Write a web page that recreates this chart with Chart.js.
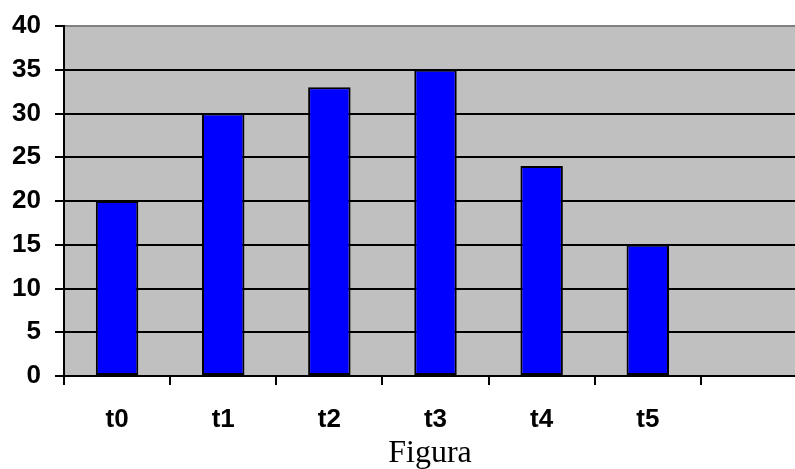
<!DOCTYPE html>
<html>
<head>
<meta charset="utf-8">
<script src="https://cdn.jsdelivr.net/npm/chart.js@4/dist/chart.umd.min.js"></script>
<style>
html,body{margin:0;padding:0;background:#fff;overflow:hidden;width:795px;height:469px;}
canvas{display:block;}
</style>
</head>
<body>
<canvas id="c" width="808" height="469"></canvas>
<script>
const categories = ['t0','t1','t2','t3','t4','t5',''];
const values = [20, 30, 33, 35, 24, 15, null];
const yMin = 0, yMax = 40, yStep = 5;
const caption = 'Figura';

const plotBg = {
  id: 'plotBg',
  beforeDraw(chart) {
    const {ctx, chartArea: a} = chart;
    ctx.save();
    ctx.fillStyle = '#C0C0C0';
    ctx.fillRect(a.left, a.top, a.right - a.left, a.bottom - a.top);
    ctx.restore();
  },
  afterDraw(chart) {
    const {ctx} = chart;
    ctx.save();
    ctx.fillStyle = '#000';
    ctx.font = '32px "Liberation Serif", "Times New Roman", serif';
    ctx.textAlign = 'center';
    ctx.textBaseline = 'alphabetic';
    ctx.fillText(caption, 430, 462);
    ctx.restore();
  }
};

new Chart(document.getElementById('c'), {
  type: 'bar',
  data: {
    labels: categories,
    datasets: [{
      data: values,
      backgroundColor: '#0000FF',
      borderColor: '#000000',
      borderWidth: 2,
      borderSkipped: false,
      barPercentage: 0.4,
      categoryPercentage: 1.0
    }]
  },
  options: {
    responsive: false,
    animation: false,
    devicePixelRatio: 1,
    layout: { padding: { top: 26, right: 1, left: 0, bottom: 0 } },
    plugins: { legend: { display: false }, tooltip: { enabled: false } },
    scales: {
      x: {
        offset: true,
        grid: { display: true, drawOnChartArea: false, drawTicks: true, tickLength: 9, color: '#000', lineWidth: 2, offset: true },
        border: { display: true, color: '#000', width: 2 },
        ticks: { color: '#000', font: { family: '"Liberation Sans", Arial, sans-serif', size: 26, weight: 'bold' }, padding: 19, maxRotation: 0, autoSkip: false },
        afterFit(scale) { scale.height = 93; scale.paddingLeft = 0; scale.paddingRight = 0; }
      },
      y: {
        min: yMin, max: yMax,
        ticks: { stepSize: yStep, color: '#000', font: { family: '"Liberation Sans", Arial, sans-serif', size: 26, weight: 'bold' }, padding: 14 },
        grid: {
          drawTicks: true, tickLength: 9,
          color: (c) => (c.tick && c.tick.value === yMax) ? '#808080' : '#000',
          tickColor: '#000',
          lineWidth: 2
        },
        border: { display: true, color: '#000', width: 2 },
        afterFit(scale) { scale.width = 64; scale.paddingTop = 0; scale.paddingBottom = 0; }
      }
    }
  },
  plugins: [plotBg]
});
</script>
</body>
</html>
